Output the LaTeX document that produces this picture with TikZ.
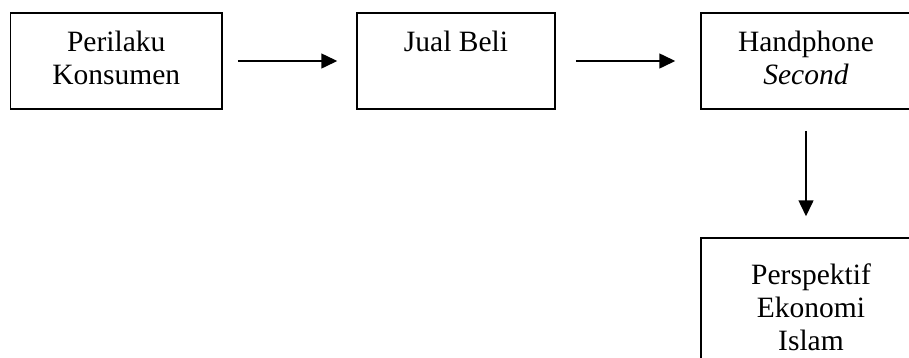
\documentclass[tikz,border=0pt]{standalone}
\usepackage{fontspec}
\setmainfont{Liberation Serif}
\usetikzlibrary{arrows.meta}
% boxed text: width, height, distance from top to first baseline, text
\newcommand{\flowcell}[4]{\parbox[t][#2][t]{#1}{\centering\rule{0pt}{#3}#4}}
\begin{document}
\begin{tikzpicture}[x=1pt,y=-1pt,
  box/.style={draw, line width=1.5pt, inner sep=0pt},
  link/.style={line width=1.5pt, -{Triangle[length=16pt,width=15pt]}},
  font=\fontsize{29.5}{33}\selectfont]
\useasboundingbox (0,0) rectangle (909,357);
\clip (0,0) rectangle (909,357);
\node[box] (perilaku) at (116.25,61) {\flowcell{211.5pt}{96pt}{38.6pt}{Perilaku\\Konsumen}};
\node[box] (jual) at (456,61) {\flowcell{198pt}{96pt}{38.6pt}{Jual Beli}};
\node[box] (hp) at (806,61) {\flowcell{210pt}{96pt}{38.6pt}{Handphone\\\textit{Second}}};
\node[box] (islam) at (811,313) {\flowcell{220pt}{150pt}{46.5pt}{Perspektif\\Ekonomi\\Islam}};
\draw[link, shorten <=15pt, shorten >=19pt] (perilaku.east) -- (jual.west);
\draw[link, shorten <=20pt, shorten >=25pt] (jual.east) -- (hp.west);
\draw[link, shorten <=21pt, shorten >=21pt] (hp.south) -- (hp.south |- islam.north);
\end{tikzpicture}
\end{document}
